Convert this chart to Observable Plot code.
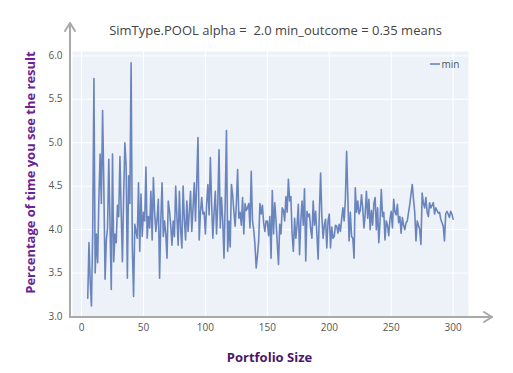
<!DOCTYPE html>
<html>
<head>
<meta charset="utf-8">
<script src="https://cdn.jsdelivr.net/npm/d3@7"></script>
<script src="https://cdn.jsdelivr.net/npm/@observablehq/plot@0.6"></script>
<style>
  html, body { margin: 0; padding: 0; background: #ffffff; }
  #chart { width: 513px; height: 373px; }
</style>
</head>
<body>
<div id="chart"></div>
<script>
const titleText = "SimType.POOL alpha =  2.0 min_outcome = 0.35 means";
const xTitle = "Portfolio Size";
const yTitle = "Percentage of time you see the result";
const seriesName = "min";
const xTicks = [0, 50, 100, 150, 200, 250, 300];
const yTicks = [3.0, 3.5, 4.0, 4.5, 5.0, 5.5, 6.0];
const firstSize = 5;
const minValues = [
  3.21, 3.85, 3.40, 3.12, 3.95, 5.74, 3.50, 3.95, 3.62, 4.35,
  4.87, 4.30, 5.37, 4.50, 3.43, 3.88, 4.02, 4.81, 4.05, 3.31,
  4.87, 3.63, 3.95, 3.85, 4.28, 4.15, 4.84, 4.20, 3.63, 4.40,
  5.00, 4.73, 3.44, 4.62, 4.30, 5.92, 3.80, 3.23, 4.06, 3.98,
  3.90, 4.54, 3.75, 4.41, 3.92, 4.20, 4.10, 4.72, 3.90, 4.15,
  4.02, 4.44, 3.88, 4.60, 4.20, 3.98, 4.12, 4.35, 3.44, 4.10,
  4.54, 3.92, 4.10, 3.95, 3.67, 4.33, 4.22, 4.05, 3.82, 4.10,
  3.92, 4.50, 4.15, 3.82, 4.44, 4.00, 3.79, 4.50, 4.12, 3.88,
  4.33, 3.98, 4.20, 4.44, 3.98, 4.25, 4.54, 4.10, 4.56, 5.06,
  3.88, 4.20, 4.37, 4.18, 4.20, 3.95, 4.30, 4.52, 4.17, 4.83,
  4.30, 3.90, 4.20, 4.44, 3.95, 4.30, 4.92, 4.02, 4.37, 4.10,
  3.67, 4.33, 5.14, 3.75, 4.10, 3.80, 4.52, 4.40, 4.20, 4.04,
  4.30, 4.69, 4.13, 4.20, 4.05, 4.37, 3.95, 4.30, 4.22, 4.25,
  4.30, 4.02, 4.67, 4.10, 4.00, 3.83, 3.56, 3.70, 3.87, 4.30,
  4.18, 4.28, 4.08, 3.98, 4.10, 4.10, 3.93, 4.15, 3.67, 4.45,
  3.95, 4.31, 4.10, 3.85, 3.60, 4.06, 3.95, 4.25, 4.22, 4.10,
  4.38, 4.20, 4.58, 4.33, 4.38, 3.95, 3.75, 4.13, 3.90, 4.05,
  4.29, 3.71, 4.10, 4.33, 4.05, 4.47, 3.64, 4.21, 4.15, 4.18,
  4.00, 3.90, 4.33, 4.05, 4.21, 3.95, 3.66, 4.20, 4.65, 4.15,
  3.90, 4.05, 4.12, 3.79, 4.10, 4.18, 3.79, 4.03, 3.90, 3.92,
  4.05, 4.04, 3.96, 4.06, 3.98, 4.12, 4.25, 4.10, 4.35, 4.90,
  4.37, 3.87, 4.20, 3.92, 3.90, 3.67, 4.48, 4.20, 4.33, 4.18,
  4.22, 4.40, 4.25, 4.02, 4.18, 4.44, 4.13, 4.35, 4.00, 4.22,
  4.05, 4.30, 4.37, 4.00, 4.25, 3.85, 4.10, 4.46, 4.15, 4.20,
  3.88, 4.10, 4.05, 3.93, 4.12, 4.21, 4.02, 4.35, 4.20, 4.17,
  4.29, 4.08, 4.15, 3.96, 4.14, 4.05, 4.00, 4.08, 4.10, 4.20,
  4.29, 4.41, 4.52, 4.35, 4.20, 3.87, 4.10, 4.05, 4.00, 3.83,
  4.42, 4.30, 4.25, 4.37, 4.20, 4.15, 4.31, 4.25, 4.28, 4.31,
  4.18, 4.25, 4.22, 4.19, 4.20, 4.12, 4.08, 4.04, 3.87, 4.18,
  4.21, 4.18, 4.14, 4.21, 4.18, 4.12
];
const portfolioSizes = minValues.map((_, i) => firstSize + i);
const data = minValues.map((v, i) => ({size: portfolioSizes[i], min: v}));

const W = 513, H = 373;
const mL = 72, mR = 45, mT = 51, mB = 57;
const lineColor = "#6a85bd";
const axisGrey = "#a9a9a9";

const plot = Plot.plot({
  width: W, height: H,
  marginLeft: mL, marginRight: mR, marginTop: mT, marginBottom: mB,
  style: {fontFamily: "'Open Sans', sans-serif", fontSize: "10px", color: "#555", background: "#ffffff", overflow: "visible"},
  x: {domain: [-7.3, 312.4], label: null},
  y: {domain: [3.0, 6.05], label: null},
  marks: [
    Plot.frame({fill: "#edf1f8", stroke: null}),
    Plot.gridX(xTicks, {stroke: "#ffffff", strokeOpacity: 1, strokeWidth: 1}),
    Plot.gridY(yTicks, {stroke: "#ffffff", strokeOpacity: 1, strokeWidth: 1}),
    Plot.axisX(xTicks, {tickSize: 0, tickPadding: 7, tickFormat: d => String(d), label: null, fill: "#555"}),
    Plot.axisY(yTicks, {tickSize: 0, tickPadding: 10, tickFormat: d3.format(".1f"), label: null, fill: "#555"}),
    Plot.line(data, {x: "size", y: "min", stroke: lineColor, strokeWidth: 1.6, strokeLinejoin: "round"}),
    Plot.text([titleText], {frameAnchor: "top", lineAnchor: "middle", dx: 5, dy: -21, fontSize: 13, fill: "#444"}),
    Plot.text([xTitle], {frameAnchor: "bottom", lineAnchor: "middle", dx: -1, dy: 41, fontSize: 13, fontWeight: "bold", fill: "#4b1669"}),
    Plot.text([seriesName], {frameAnchor: "top-right", lineAnchor: "middle", dx: -9, dy: 13, textAnchor: "end", fontSize: 10, fill: "#555"})
  ]
});

const svg = d3.select(plot);
// rotated y-axis title
svg.append("text")
  .attr("transform", `translate(30,${(mT + H - mB) / 2 - 11}) rotate(-90)`)
  .attr("text-anchor", "middle").attr("dominant-baseline", "central")
  .attr("font-family", "'Open Sans', sans-serif").attr("font-size", 13).attr("font-weight", "bold")
  .attr("fill", "#6b2296").text(yTitle);
// axis lines with arrowheads
const g = svg.append("g").attr("fill", "none").attr("stroke", axisGrey).attr("stroke-width", 2).attr("stroke-linecap", "round").attr("stroke-linejoin", "round");
const ax = mL - 2, ay = H - mB;
g.append("path").attr("d", `M${ax},${ay + 1}V23`);
g.append("path").attr("d", `M${ax - 5},31L${ax},23L${ax + 5},31`);
g.append("path").attr("d", `M${ax},${ay + 1}H492`);
g.append("path").attr("d", `M484,${ay - 4}L492,${ay + 1}L484,${ay + 6}`);
// legend swatch
svg.append("line").attr("x1", 430).attr("x2", 440).attr("y1", mT + 13).attr("y2", mT + 13)
  .attr("stroke", lineColor).attr("stroke-width", 1.6);

document.getElementById("chart").appendChild(plot);
</script>
</body>
</html>
